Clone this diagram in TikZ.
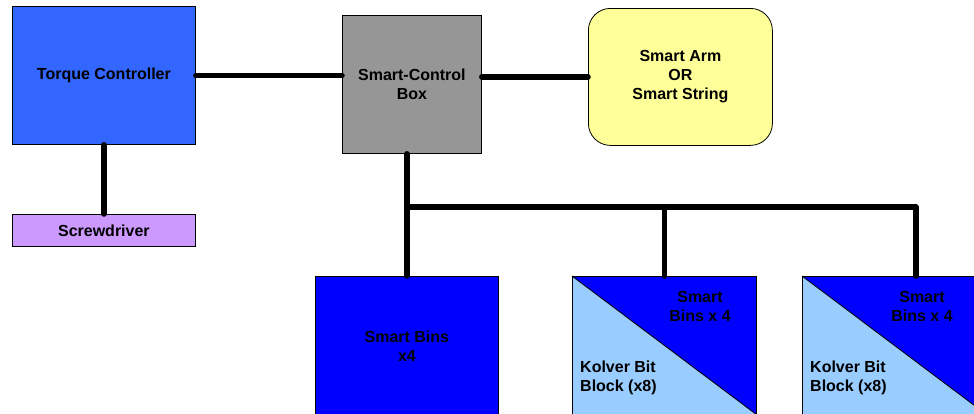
\documentclass[tikz,border=0pt]{standalone}
\usepackage{fontspec}
\setmainfont{Liberation Sans}
\begin{document}
\begin{tikzpicture}[x=1pt,y=-1pt,
  box/.style={draw=black, line width=0.8pt, inner sep=0pt, anchor=north west, align=center,
    font=\bfseries\fontsize{16}{19}\selectfont},
  wire/.style={line width=5.5pt, line cap=round},
  lbl/.style={font=\bfseries\fontsize{16}{19}\selectfont, inner sep=0pt}]
\useasboundingbox (0,0) rectangle (974,413);
\clip (0,0) rectangle (974,413);
\definecolor{tcblue}{HTML}{3366FF}
\definecolor{lilac}{HTML}{CC99FF}
\definecolor{gray1}{HTML}{969696}
\definecolor{pale}{HTML}{FFFF99}
\definecolor{deep}{HTML}{0000FF}
\definecolor{light}{HTML}{99CCFF}
\node[box, fill=tcblue, minimum width=183pt, minimum height=138pt] (tc) at (12,6) {Torque Controller};
\node[box, fill=lilac, minimum width=183pt, minimum height=32pt] (sd) at (12,214) {Screwdriver};
\node[box, fill=gray1, minimum width=139pt, minimum height=138pt] (scb) at (342,15) {Smart-Control\\Box};
\node[box, fill=pale, rounded corners=22pt, minimum width=184pt, minimum height=137pt] (arm) at (588,8) {Smart Arm\\OR\\Smart String};
\node[box, fill=deep, minimum width=183pt, minimum height=140pt] (b1) at (315,276) {Smart Bins\\x4};
% split boxes
\node[box, fill=light, minimum width=184pt, minimum height=138pt] (b2) at (572,276) {};
\fill[deep] (b2.north west) -- (b2.north east) -- (b2.south east) -- cycle;
\draw[line width=0.8pt] (b2.north west) -- (b2.south east);
\draw[line width=0.8pt] (b2.north west) rectangle (b2.south east);
\node[lbl, align=center] (b2t) at (700,306) {Smart\\Bins x 4};
\node[lbl, align=left, anchor=west] (b2k) at (580,378) {Kolver Bit\\Block (x8)};
\node[box, fill=light, minimum width=184pt, minimum height=138pt] (b3) at (802,276) {};
\fill[deep] (b3.north west) -- (b3.north east) -- (b3.south east) -- cycle;
\draw[line width=0.8pt] (b3.north west) -- (b3.south east);
\draw[line width=0.8pt] (b3.north west) rectangle (b3.south east);
\node[lbl, align=center] (b3t) at (922,306) {Smart\\Bins x 4};
\node[lbl, align=left, anchor=west] (b3k) at (810,378) {Kolver Bit\\Block (x8)};
% connectors
\coordinate (j) at (407,207);
\coordinate (b3top) at (916,276);
\coordinate (j3) at (916,207);
\draw[wire] (tc.east) -- (tc.east -| scb.west);
\draw[wire] (scb.east |- arm.west) -- (arm.west);
\draw[wire] (tc.south -| sd.north) -- (sd.north);
\draw[wire] (j |- scb.south) -- (j |- b1.north);
\draw[wire, line join=round] (j) -- (j3) -- (b3top);
\draw[wire] (j -| b2.north) -- (b2.north);
\end{tikzpicture}
\end{document}
